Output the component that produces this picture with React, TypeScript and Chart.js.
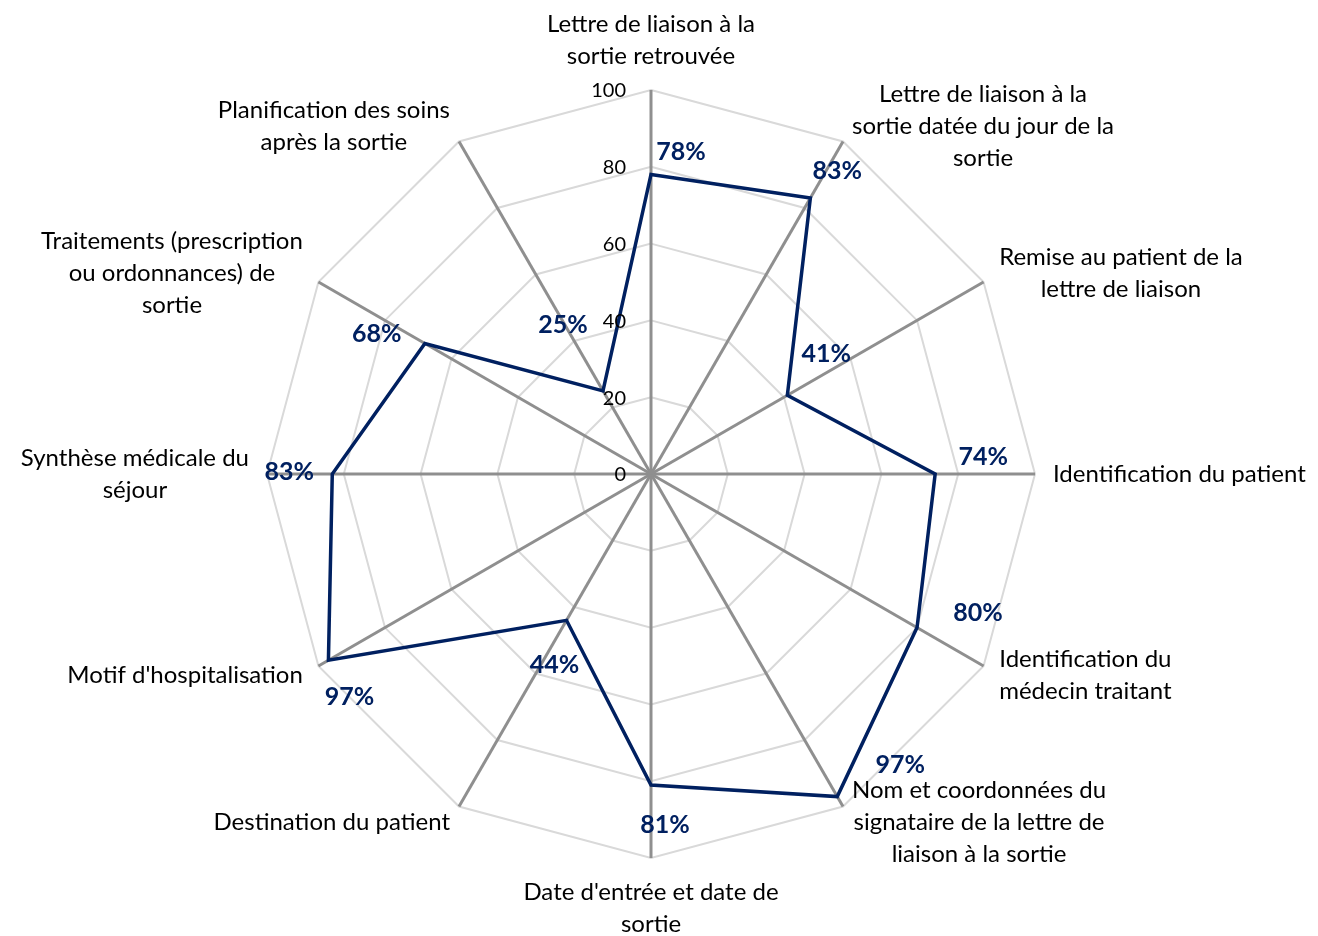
import React, { useEffect, useRef } from "react";
import { Chart, registerables } from "chart.js";

Chart.register(...registerables);

// ---- Data ----
const categories: string[][] = [
  ["Lettre de liaison à la", "sortie retrouvée"],
  ["Lettre de liaison à la", "sortie datée du jour de la", "sortie"],
  ["Remise au patient de la", "lettre de liaison"],
  ["Identification du patient"],
  ["Identification du", "médecin traitant"],
  ["Nom et coordonnées du", "signataire de la lettre de", "liaison à la sortie"],
  ["Date d'entrée et date de", "sortie"],
  ["Destination du patient"],
  ["Motif d'hospitalisation"],
  ["Synthèse médicale du", "séjour"],
  ["Traitements (prescription", "ou ordonnances) de", "sortie"],
  ["Planification des soins", "après la sortie"],
];

const values: number[] = [78, 83, 41, 74, 80, 97, 81, 44, 97, 83, 68, 25];

const tickValues: number[] = [0, 20, 40, 60, 80, 100];

// ---- Styling / placement (not data) ----
const NAVY = "#002060";
const FONT = "Lato, 'Open Sans', sans-serif";
// offsets of each value label from its point (manually placed labels in the original)
const labelOffsets: [number, number][] = [
  [30, -23],
  [27, -27],
  [39, -41],
  [48, -17],
  [61, -15],
  [63, -32],
  [14, 40],
  [-12, 45],
  [21, 37],
  [-43, -2],
  [-48, -10],
  [-40, -66],
];

const textPlugin = {
  id: "radarText",
  afterDatasetsDraw(chart: any) {
    const ctx: CanvasRenderingContext2D = chart.ctx;
    const scale = chart.scales.r;
    const cx = scale.xCenter;
    const cy = scale.yCenter;
    const R = scale.drawingArea;
    ctx.save();

    // radial tick labels, left of the vertical axis
    ctx.font = `20px ${FONT}`;
    ctx.fillStyle = "#000000";
    ctx.textAlign = "right";
    ctx.textBaseline = "middle";
    tickValues.forEach((t) => {
      const d = scale.getDistanceFromCenterForValue(t);
      ctx.fillText(String(t), cx - 25, cy - d + 1);
    });

    // category labels
    ctx.font = `24px ${FONT}`;
    const lh = 32;
    const n = categories.length;
    categories.forEach((lines, i) => {
      const p = scale.getPointPosition(i, R + 18);
      const ang = (i * 2 * Math.PI) / n;
      const s = Math.sin(ang);
      const c = Math.cos(ang);
      const w = Math.max(...lines.map((l) => ctx.measureText(l).width));
      const h = lines.length * lh;
      let bx: number;
      if (s > 0.01) bx = p.x + w / 2;
      else if (s < -0.01) bx = p.x - w / 2;
      else bx = p.x;
      let top: number;
      if (Math.abs(s) < 0.01) top = c > 0 ? p.y - h : p.y;
      else top = p.y - h / 2;
      ctx.textAlign = "center";
      ctx.textBaseline = "middle";
      lines.forEach((l, k) => ctx.fillText(l, bx, top + lh * (k + 0.5)));
    });

    // value labels
    const meta = chart.getDatasetMeta(0);
    ctx.font = `bold 25px ${FONT}`;
    ctx.fillStyle = NAVY;
    ctx.textAlign = "center";
    ctx.textBaseline = "middle";
    meta.data.forEach((pt: any, i: number) => {
      const [dx, dy] = labelOffsets[i];
      ctx.fillText(`${values[i]}%`, pt.x + dx, pt.y + dy);
    });

    ctx.restore();
  },
};

export default function App() {
  const ref = useRef<HTMLCanvasElement | null>(null);

  useEffect(() => {
    if (!ref.current) return;
    const chart = new Chart(ref.current, {
      type: "radar",
      data: {
        labels: categories,
        datasets: [
          {
            data: values,
            borderColor: NAVY,
            borderWidth: 3.5,
            pointRadius: 0,
            pointHoverRadius: 0,
            fill: false,
            tension: 0,
          },
        ],
      },
      options: {
        responsive: false,
        animation: false,
        devicePixelRatio: 1,
        layout: { padding: { left: 267, top: 90, right: 283, bottom: 78 } },
        plugins: {
          legend: { display: false },
          tooltip: { enabled: false },
        },
        scales: {
          r: {
            min: 0,
            max: 100,
            ticks: { display: false, stepSize: 20 },
            pointLabels: { display: false },
            grid: { color: "#d9d9d9", lineWidth: 2 },
            angleLines: { color: "#8f8f8f", lineWidth: 3 },
          },
        },
      },
      plugins: [textPlugin],
    } as any);
    return () => chart.destroy();
  }, []);

  return (
    <div style={{ position: "absolute", left: 0, top: 0, width: 1318, height: 936, background: "#ffffff" }}>
      <canvas ref={ref} width={1318} height={936} style={{ width: 1318, height: 936, display: "block" }} />
    </div>
  );
}
